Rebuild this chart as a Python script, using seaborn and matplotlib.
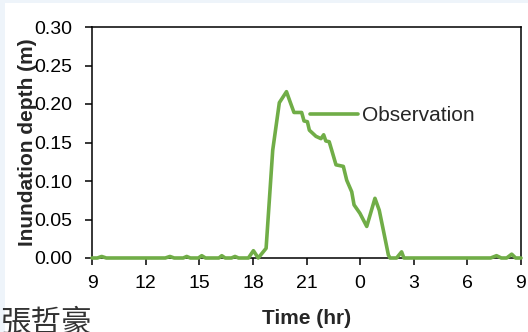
import matplotlib
matplotlib.use('Agg')
import matplotlib.pyplot as plt
import seaborn as sns
import pandas as pd
from matplotlib.patches import Rectangle

# hours after 09:00 and observed inundation depth (m)
hours = [0, 0.3, 0.54, 0.8, 4.1, 4.36, 4.6, 5.1, 5.3, 5.5, 5.95, 6.14, 6.35,
         7.1, 7.26, 7.45, 7.8, 8.0, 8.2, 8.75, 9.03, 9.3, 9.74, 10.11, 10.48,
         10.88, 11.08, 11.3, 11.73, 11.86, 12.05, 12.16, 12.53, 12.81, 12.96,
         13.08, 13.27, 13.41, 13.65, 14.06, 14.25, 14.53, 14.66, 14.99, 15.37,
         15.83, 16.07, 16.3, 16.58, 16.67, 17.04, 17.32, 17.45, 22.3, 22.63,
         22.9, 23.2, 23.48, 23.7, 24]
depth = [0, 0, 0.002, 0, 0, 0.002, 0, 0, 0.002, 0, 0, 0.003, 0,
         0, 0.003, 0, 0, 0.002, 0, 0, 0.0095, 0, 0.0126, 0.140, 0.2017,
         0.216, 0.203, 0.189, 0.189, 0.178, 0.177, 0.166, 0.158, 0.155, 0.160,
         0.152, 0.151, 0.140, 0.121, 0.119, 0.101, 0.086, 0.069, 0.058, 0.041,
         0.0775, 0.062, 0.036, 0.004, 0, 0, 0.008, 0, 0, 0.003,
         0, 0, 0.005, 0, 0]

xtick_pos = [0, 3, 6, 9, 12, 15, 18, 21, 24]
xtick_labels = ['9', '12', '15', '18', '21', '0', '3', '6', '9']
yticks = [0, 0.05, 0.10, 0.15, 0.20, 0.25, 0.30]

df = pd.DataFrame({'hour': hours, 'depth': depth})

sns.set_style('ticks')
plt.rcParams['font.family'] = ['Liberation Sans', 'DejaVu Sans']

fig = plt.figure(figsize=(5.28, 3.32), dpi=100, facecolor='#eef4fa')
# white slide area behind the chart
fig.patches.append(Rectangle((5 / 528, 0), 1, 1 - 3 / 332, transform=fig.transFigure,
                             facecolor='white', edgecolor='none', zorder=-10))

ax = fig.add_axes([92 / 528, 1 - 258 / 332, 429 / 528, 231 / 332])
ax.set_facecolor('none')
sns.lineplot(data=df, x='hour', y='depth', ax=ax, color='#70ad47', linewidth=2.6,
             label='Observation', clip_on=False, zorder=5)

ax.set_xlim(0, 24)
ax.set_ylim(0, 0.30)
ax.set_xticks(xtick_pos)
ax.set_xticklabels(xtick_labels)
ax.set_yticks(yticks)
ax.set_yticklabels([f'{v:.2f}' for v in yticks])
ax.tick_params(axis='both', direction='out', length=5, width=1.1, labelsize=14, colors='black')
ax.tick_params(axis='x', pad=7)
ax.tick_params(axis='y', pad=9)
for s in ax.spines.values():
    s.set_visible(True)
    s.set_linewidth(1.1)
    s.set_color('black')

ax.set_xlabel('Time (hr)', fontsize=15, fontweight='bold')
ax.set_ylabel('Inundation depth (m)', fontsize=15, fontweight='bold')
ax.yaxis.set_label_coords(-0.128, 0.5)
ax.xaxis.set_label_coords(0.5, -0.22)

ax.legend(loc='center left', bbox_to_anchor=(0.508, 0.617), frameon=False,
          fontsize=15, handlelength=2.3, handletextpad=0.2, borderpad=0, borderaxespad=0)

fig.text(0.0, 1 - 308 / 332, '張哲豪', fontsize=22, color='#333333', ha='left', va='top',
         family=['Noto Sans CJK TC', 'DejaVu Sans'])

fig.savefig('out.png', dpi=100, facecolor=fig.get_facecolor())
